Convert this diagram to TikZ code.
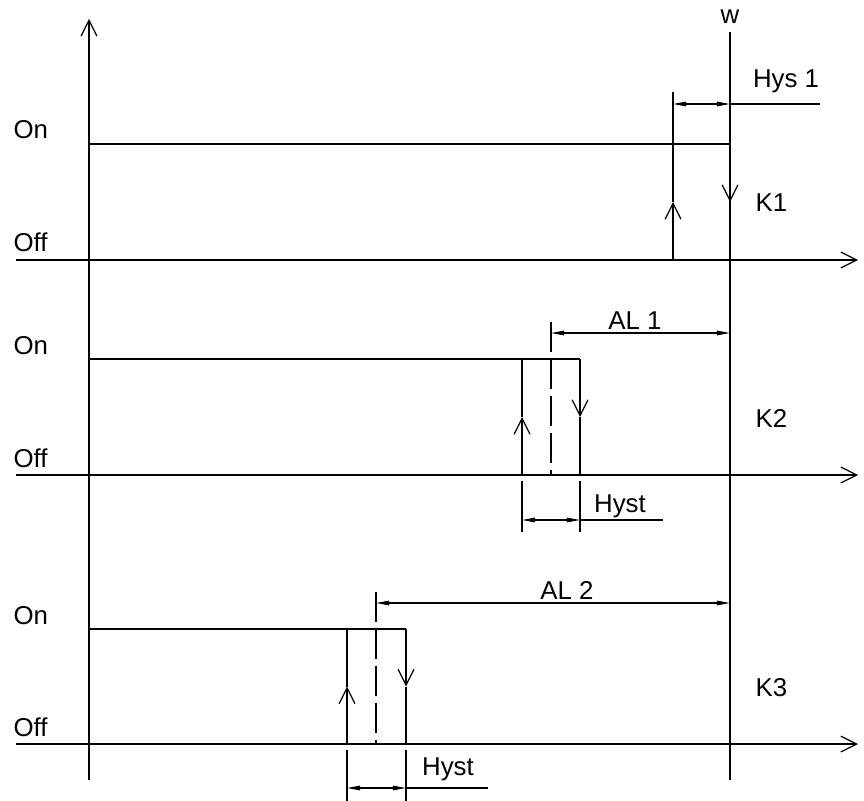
\documentclass[tikz,border=0pt]{standalone}
\usepackage{fontspec}
\setmainfont{Liberation Sans}
\usetikzlibrary{arrows.meta}
\begin{document}
\begin{tikzpicture}[x=0.02cm,y=-0.02cm,line width=0.7pt,
        >={Straight Barb[length=9pt,width=9pt]},
        dim/.style={{Triangle[length=7.5pt,width=2.6pt]}-{Triangle[length=7.5pt,width=2.6pt]}},
        lbl/.style={font=\fontsize{14.7}{17}\selectfont,inner sep=0pt,anchor=base},
        setpt/.style={dash pattern=on 17pt off 4pt}]
    \useasboundingbox (0,0) rectangle (864,800);
    % Achsen
    \draw[->] (89,780) -- (89,19);
    \draw (730,780) -- (730,32);
    \node[lbl] (w) at (730,24) {w};
    \foreach \yon/\ya/\n in {144/260/1, 359/475/2, 629/744/3} {
        \draw[->] (16,\ya) -- (858,\ya);
        \node[lbl,anchor=base west] (on\n) at (13,\yon-5) {On};
        \node[lbl,anchor=base west] (off\n) at (13,\ya-8) {Off};
        \node[lbl,anchor=base west] (k\n) at (755,{(\yon+\ya)/2+10}) {K\n};
    }
    % K1
    \draw (89,144) -- (730,144);
    \draw[->] (673,260) -- (673,202);
    \draw (673,202) -- (673,92);
    \draw[->] (730,144) -- (730,202);
    \draw[dim] (673,104) -- (730,104);
    \draw (730,104) -- (820,104);
    \node[lbl] (hys1) at (786,88) {Hys 1};
    % K2, K3
    \foreach \yon/\ya/\xu/\xm/\xd/\yal/\xal/\yh/\xe/\xh/\yht/\n in
        {359/475/522/551/580/333/635/520/663/620/512/1, 629/744/347/376/406/603/567/788/488/448/775/2} {
        \draw (89,\yon) -- (\xd,\yon);
        \draw[->] (\xu,\ya) -- (\xu,{(\yon+\ya)/2});
        \draw (\xu,{(\yon+\ya)/2}) -- (\xu,\yon);
        \draw[->] (\xd,\yon) -- (\xd,{(\yon+\ya)/2});
        \draw (\xd,{(\yon+\ya)/2}) -- (\xd,\ya);
        \draw[setpt] (\xm,\yal-11) -- (\xm,\ya);
        \draw[dim] (\xm,\yal) -- (730,\yal);
        \node[lbl] (al\n) at (\xal,\yal-4) {AL \n};
        \draw (\xu,\ya+6) -- (\xu,\ya+57);
        \draw (\xd,\ya+6) -- (\xd,\ya+57);
        \draw[dim] (\xu,\yh) -- (\xd,\yh);
        \draw (\xd,\yh) -- (\xe,\yh);
        \node[lbl] (hyst\n) at (\xh,\yht) {Hyst};
    }
\end{tikzpicture}
\end{document}
